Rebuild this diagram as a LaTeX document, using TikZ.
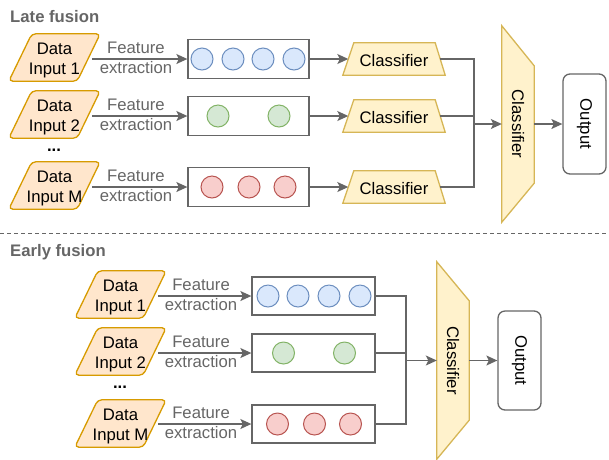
\documentclass[tikz,border=0pt]{standalone}
\usepackage{fontspec}
\setmainfont{Liberation Sans}
\usetikzlibrary{arrows.meta,calc,backgrounds}
\definecolor{lg}{HTML}{666666}
\definecolor{orF}{HTML}{FFE6CC}\definecolor{orD}{HTML}{D79B00}
\definecolor{yeF}{HTML}{FFF2CC}\definecolor{yeD}{HTML}{D6B656}
\definecolor{blF}{HTML}{DAE8FC}\definecolor{blD}{HTML}{6C8EBF}
\definecolor{grF}{HTML}{D5E8D4}\definecolor{grD}{HTML}{82B366}
\definecolor{reF}{HTML}{F8CECC}\definecolor{reD}{HTML}{B85450}
\begin{document}
\begin{tikzpicture}[x=1pt,y=-1pt,font=\fontsize{16.7}{20}\selectfont,
  ghost/.style={inner sep=0pt,align=center},
  indata/.style={ghost,minimum width=91pt,minimum height=47pt},
  para/.style={fill=orF,draw=orD,line width=1.3pt,rounded corners=4pt},
  featbox/.style={draw=lg,line width=1.3pt,fill=white,minimum height=39pt,inner sep=0pt},
  dot/.style={circle,minimum size=22pt,inner sep=0pt,line width=1pt},
  bluedot/.style={dot,fill=blF,draw=blD},
  greendot/.style={dot,fill=grF,draw=grD},
  reddot/.style={dot,fill=reF,draw=reD},
  clf/.style={ghost,minimum width=102pt,minimum height=32pt},
  trap/.style={fill=yeF,draw=yeD,line width=1.3pt},
  outbox/.style={draw=lg,line width=1.3pt,rounded corners=7pt,minimum width=43pt,inner sep=0pt},
  arr/.style={draw=lg,line width=1.3pt,-{Stealth[length=11pt,width=10pt,inset=2.5pt]}},
  ln/.style={draw=lg,line width=1.3pt},
  fe/.style={ghost,text=lg},
  dots/.style={inner sep=0pt,font=\fontsize{16.7}{20}\selectfont\bfseries},
  titletext/.style={inner sep=0pt,anchor=west,text=lg,font=\fontsize{16.7}{20}\selectfont\bfseries}]
\useasboundingbox (0,0) rectangle (609,459);

% ================= Late fusion =================
\node[titletext] (t1) at (10,17) {Late fusion};

\node[indata] (a1) at (54.5,60.5) {Data\\Input 1};
\node[indata] (a2) at (54.5,117.5) {Data\\Input 2};
\node[dots] (d1) at (54,150) {...};
\node[indata] (a3) at (54.5,188.5) {Data\\Input M};

\node[featbox,minimum width=121pt] (f1) at (248.5,59) {};
\node[featbox,minimum width=121pt] (f2) at (248.5,116) {};
\node[featbox,minimum width=121pt] (f3) at (248.5,187) {};

\node[bluedot] (c11) at (202,59) {};
\node[bluedot] (c12) at (233,59) {};
\node[bluedot] (c13) at (263,59) {};
\node[bluedot] (c14) at (294,59) {};
\node[greendot] (c21) at (218,116) {};
\node[greendot] (c22) at (279,116) {};
\node[reddot] (c31) at (212,187) {};
\node[reddot] (c32) at (249,187) {};
\node[reddot] (c33) at (285,187) {};

\node[clf] (k1) at (394,61) {Classifier};
\node[clf] (k2) at (394,118) {Classifier};
\node[clf] (k3) at (394,189) {Classifier};

\node[ghost,minimum width=32pt,minimum height=196pt] (B1) at (518,124) {\rotatebox{-90}{Classifier}};
\node[outbox,minimum height=100pt] (o1) at (584.5,124) {\rotatebox{-90}{Output}};

\coordinate (j1) at (474,124);

\begin{scope}[on background layer]
  \foreach \n in {a1,a2,a3}{
    \path[para] ([xshift=23pt,yshift=3pt]\n.north west) -- ([yshift=3pt]\n.north east) -- ([xshift=-23pt,yshift=3pt]\n.south east) -- ([yshift=3pt]\n.south west) -- cycle;}
  \foreach \n in {k1,k2,k3}{
    \path[trap] ([xshift=11pt,yshift=2pt]\n.north west) -- ([xshift=-10pt,yshift=2pt]\n.north east) -- ([yshift=2pt]\n.south east) -- ([yshift=2pt]\n.south west) -- cycle;}
  \path[trap] (B1.north west) -- ([yshift=-40pt]B1.north east) -- ([yshift=39pt]B1.south east) -- (B1.south west) -- cycle;
\end{scope}

\draw[arr] ($(a1.east |- f1.west)+(-8,0)$) -- node[fe,pos=0.46,yshift=1pt]{Feature\\extraction} (f1.west);
\draw[arr] ($(a2.east |- f2.west)+(-8,0)$) -- node[fe,pos=0.46,yshift=1pt]{Feature\\extraction} (f2.west);
\draw[arr] ($(a3.east |- f3.west)+(-8,0)$) -- node[fe,pos=0.46,yshift=1pt]{Feature\\extraction} (f3.west);

\draw[arr] (f1.east) -- ($(k1.west |- f1.east)+(5.5,0)$);
\draw[arr] (f2.east) -- ($(k2.west |- f2.east)+(5.5,0)$);
\draw[arr] (f3.east) -- ($(k3.west |- f3.east)+(5.5,0)$);

\draw[ln] ($(k1.east |- f1.east)+(-5,0)$) -| (j1);
\draw[ln] ($(k2.east |- f2.east)+(-5,0)$) -- (f2.east -| j1);
\draw[ln] ($(k3.east |- f3.east)+(-5,0)$) -| (j1);
\draw[arr] (j1) -- (j1 -| B1.west);
\draw[arr] (B1.east) -- (o1.west);

% ================= separator =================
\coordinate (sl) at (0,233);
\coordinate (sr) at (609,233);
\draw[lg,line width=1pt,dash pattern=on 4pt off 3pt] (sl) -- (sr);

% ================= Early fusion =================
\node[titletext] (t2) at (10,252) {Early fusion};

\node[indata] (e1) at (120.5,297.5) {Data\\Input 1};
\node[indata] (e2) at (120.5,354.5) {Data\\Input 2};
\node[dots] (d2) at (120,387) {...};
\node[indata] (e3) at (120.5,426.5) {Data\\Input M};

\node[featbox,minimum width=123pt,minimum height=38pt] (g1) at (313.5,296) {};
\node[featbox,minimum width=123pt,minimum height=38pt] (g2) at (313.5,353) {};
\node[featbox,minimum width=123pt,minimum height=38pt] (g3) at (313.5,424) {};

\node[bluedot] (h11) at (268,296) {};
\node[bluedot] (h12) at (298,296) {};
\node[bluedot] (h13) at (329,296) {};
\node[bluedot] (h14) at (360,296) {};
\node[greendot] (h21) at (283.5,353) {};
\node[greendot] (h22) at (344.5,353) {};
\node[reddot] (h31) at (277.5,424) {};
\node[reddot] (h32) at (314.5,424) {};
\node[reddot] (h33) at (350.5,424) {};

\node[ghost,minimum width=32pt,minimum height=197pt] (B2) at (453,360.5) {\rotatebox{-90}{Classifier}};
\node[outbox,minimum height=99pt] (o2) at (519.5,360.5) {\rotatebox{-90}{Output}};

\coordinate (j2) at (406,360.5);

\begin{scope}[on background layer]
  \foreach \n in {e1,e2,e3}{
    \path[para] ([xshift=23pt,yshift=3pt]\n.north west) -- ([yshift=3pt]\n.north east) -- ([xshift=-23pt,yshift=3pt]\n.south east) -- ([yshift=3pt]\n.south west) -- cycle;}
  \path[trap] (B2.north west) -- ([yshift=-39pt]B2.north east) -- ([yshift=39pt]B2.south east) -- (B2.south west) -- cycle;
\end{scope}

\draw[arr] ($(e1.east |- g1.west)+(-8,0)$) -- node[fe,pos=0.46,yshift=1pt]{Feature\\extraction} (g1.west);
\draw[arr] ($(e2.east |- g2.west)+(-8,0)$) -- node[fe,pos=0.46,yshift=1pt]{Feature\\extraction} (g2.west);
\draw[arr] ($(e3.east |- g3.west)+(-8,0)$) -- node[fe,pos=0.46,yshift=1pt]{Feature\\extraction} (g3.west);

\draw[ln] (g1.east) -| (j2);
\draw[ln] (g2.east) -- (g2.east -| j2);
\draw[ln] (g3.east) -| (j2);
\draw[arr] (j2) -- (j2 -| B2.west);
\draw[arr] (B2.east) -- (o2.west);
\end{tikzpicture}
\end{document}
